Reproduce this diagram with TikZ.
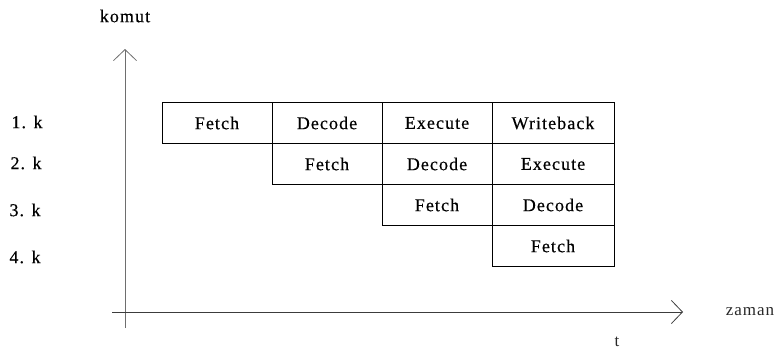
\documentclass[tikz,border=0pt]{standalone}
\usepackage{fontspec}
\setmainfont{Liberation Serif}[LetterSpace=6.0, FakeBold=0.4]
\newfontfamily\thinfont{Liberation Serif}[LetterSpace=6.0]
\usepackage{xcolor}
\usepackage{tikz}
\usetikzlibrary{arrows.meta,positioning}

\definecolor{axisgray}{RGB}{110,110,110}
\definecolor{axisdark}{RGB}{60,60,60}
\definecolor{labelgray}{RGB}{40,40,40}

\tikzset{
    stage/.style={draw, line width=0.8pt, minimum width=110pt, minimum height=41pt, inner sep=0pt},
    laststage/.style={stage, minimum width=122pt},
    axisarrow/.style={-{Straight Barb[length=11pt,width=23pt,line width=0.8pt]}, line width=0.9pt},
    rowlabel/.style={inner sep=0pt},
    axislabel/.style={text=labelgray, font=\fontsize{17pt}{20pt}\thinfont}
}

\begin{document}
\begin{tikzpicture}[x=1pt, y=-1pt, font=\fontsize{18pt}{21pt}\selectfont]
    \useasboundingbox (0,0) rectangle (777,354);

    % axes
    \coordinate (ybot) at (125,328);
    \coordinate (ytop) at (125,49);
    \coordinate (xleft) at (112,312);
    \coordinate (xright) at (683,312);
    \draw[axisarrow, axisgray] (ybot) -- (ytop);
    \draw[axisarrow, axisdark] (xleft) -- (xright);

    \node (komut) at (125,16) {komut};
    \node[axislabel] (zaman) at (750,312) {zaman};
    \node[axislabel] (t) at (617,342) {t};

    % instructions
    \node[rowlabel] (k1) at (27,122) {1. k};
    \node[rowlabel] (k2) at (26,163) {2. k};
    \node[rowlabel] (k3) at (25,210) {3. k};
    \node[rowlabel] (k4) at (25,257) {4. k};

    % pipeline stages
    \node[stage] (f1) at (217,123) {Fetch};
    \node[stage] (d1) at (327,123) {Decode};
    \node[stage] (e1) at (437,123) {Execute};
    \node[laststage] (w1) at (553,123) {Writeback};

    \node[stage] (f2) at (327,164) {Fetch};
    \node[stage] (d2) at (437,164) {Decode};
    \node[laststage] (e2) at (553,164) {Execute};

    \node[stage] (f3) at (437,205) {Fetch};
    \node[laststage] (d3) at (553,205) {Decode};

    \node[laststage] (f4) at (553,246) {Fetch};
\end{tikzpicture}
\end{document}
